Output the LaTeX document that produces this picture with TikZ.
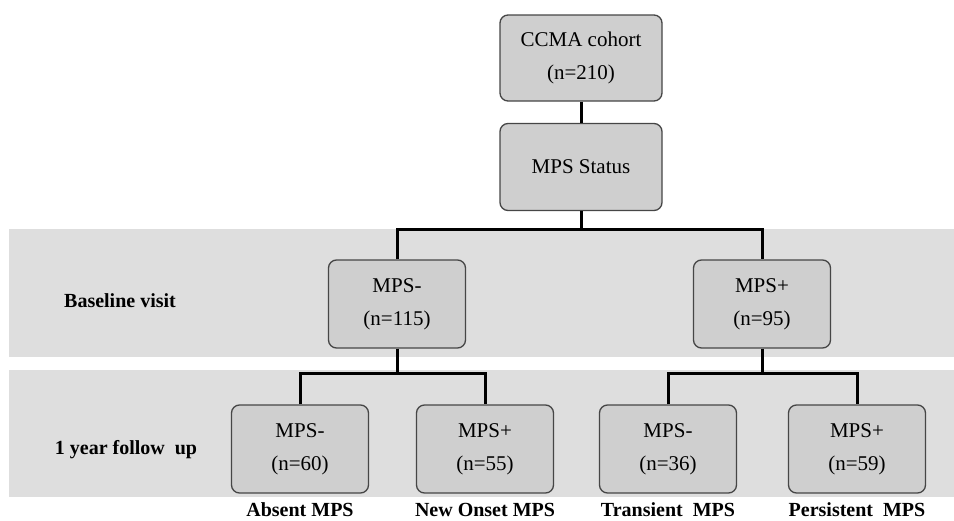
\documentclass[tikz,border=0pt]{standalone}
\usepackage{fontspec}
\setmainfont{Liberation Serif}
\usetikzlibrary{positioning}
\definecolor{boxgray}{RGB}{207,207,207}
\definecolor{bandgray}{RGB}{222,222,222}
\definecolor{edgegray}{RGB}{70,70,70}
\tikzset{
  mpsbox/.style={draw=edgegray,line width=1.3pt,fill=boxgray,rounded corners=8pt,
    align=center,inner sep=0pt,font=\fontsize{21}{33}\selectfont},
  rowlabel/.style={inner sep=0.75pt,text height=14pt,text depth=5pt,
    font=\fontsize{20}{24}\selectfont\bfseries},
  bus/.style={line width=3pt}
}
\begin{document}
\begin{tikzpicture}[x=1pt,y=1pt,yscale=-1]
  \useasboundingbox (0,0) rectangle (954,520);
  %Shape: Rectangle [bands]
  \fill[bandgray] (9,229) rectangle (954,357);
  \fill[bandgray] (9,370) rectangle (954,497);

  % Nodes
  \node[mpsbox,minimum width=162,minimum height=86] (cohort) at (581,58) {CCMA cohort\\(n=210)};
  \node[mpsbox,minimum width=162,minimum height=87] (status) at (581,167) {MPS Status};
  \node[mpsbox,minimum width=137,minimum height=88] (baseneg) at (397,304) {MPS-\\(n=115)};
  \node[mpsbox,minimum width=137,minimum height=88] (basepos) at (762,304) {MPS+\\(n=95)};
  \node[mpsbox,minimum width=137,minimum height=88] (absent) at (300,449) {MPS-\\(n=60)};
  \node[mpsbox,minimum width=137,minimum height=88] (onset) at (485,449) {MPS+\\(n=55)};
  \node[mpsbox,minimum width=137,minimum height=88] (transient) at (668,449) {MPS-\\(n=36)};
  \node[mpsbox,minimum width=137,minimum height=88] (persistent) at (857,449) {MPS+\\(n=59)};

  % Bus points
  \coordinate (topbus) at (581,229);
  \coordinate (negbus) at (397,373);
  \coordinate (posbus) at (762,373);

  %Straight Lines
  \draw[bus] (cohort) -- (status);
  \draw[bus] (status) -- (topbus);
  \draw[bus] (baseneg.north) -- (baseneg.north |- topbus) -- (basepos.north |- topbus) -- (basepos.north);
  \draw[bus] (baseneg) -- (negbus);
  \draw[bus] (absent.north) -- (absent.north |- negbus) -- (onset.north |- negbus) -- (onset.north);
  \draw[bus] (basepos) -- (posbus);
  \draw[bus] (transient.north) -- (transient.north |- posbus) -- (persistent.north |- posbus) -- (persistent.north);

  % Text Node
  \node[rowlabel] (baselbl) at (120,303) {Baseline visit};
  % Text Node
  \node[rowlabel] (followlbl) at (126,450) {1 year follow\ \ up};
  % Text Node
  \node[rowlabel,below=8pt of absent] (absentlbl) {Absent MPS};
  \node[rowlabel,below=8pt of onset] (onsetlbl) {New Onset MPS};
  \node[rowlabel,below=8pt of transient] (transientlbl) {Transient\ \ MPS};
  \node[rowlabel,below=8pt of persistent] (persistentlbl) {Persistent\ \ MPS};
\end{tikzpicture}
\end{document}
